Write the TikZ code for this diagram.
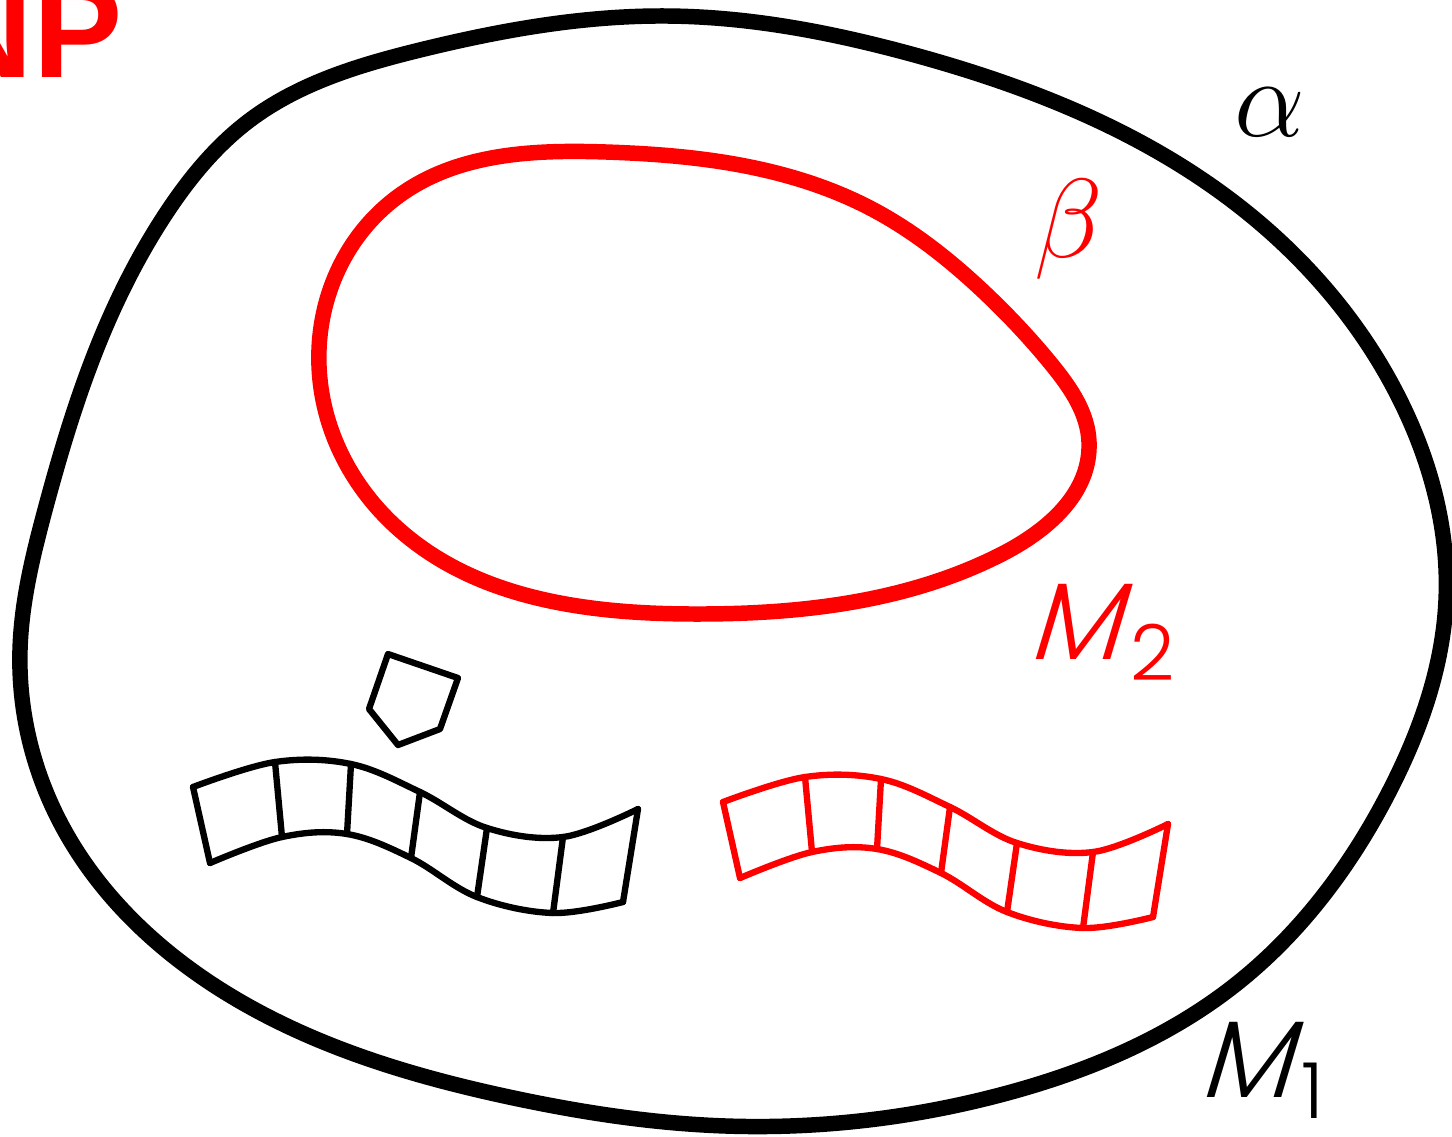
\RequirePackage{fix-cm}
\documentclass[tikz,border=0pt]{standalone}
\usepackage{fontspec}
\usetikzlibrary{positioning}
\usetikzlibrary{hobby}
\newfontfamily\mfont[FakeSlant=0.3]{Poppins Light}
\newfontfamily\subfont{Poppins Light}
\newfontfamily\npfont{Liberation Sans}

\begin{document}
\begin{tikzpicture}[x=0.01cm, y=-0.01cm, line cap=round, line join=round]

	% Colors
	\definecolor{redA}{RGB}{255,0,0}

	\tikzset{
		outerline/.style={line width=4.4pt, draw=black},
		innerline/.style={line width=4.4pt, draw=redA},
		stripline/.style={line width=1.8pt},
		lab/.style={inner sep=0pt, font=\fontsize{32}{38}\selectfont},
		mlab/.style={inner sep=0pt, font=\fontsize{31}{36}\selectfont},
		film/.pic={
			\draw[stripline] plot[smooth, tension=0.6] coordinates
				{(193,787) (275,762) (351,764) (420,792) (487,828) (563,837) (638,809)};
			\draw[stripline] plot[smooth, tension=0.6] coordinates
				{(210,863) (282,837) (347,834) (411,858) (477,897) (553,913) (623,902)};
			\draw[stripline] (193,787) -- (210,863);
			\draw[stripline] (275,762) -- (282,837);
			\draw[stripline] (351,764) -- (347,834);
			\draw[stripline] (420,792) -- (411,858);
			\draw[stripline] (487,828) -- (477,897);
			\draw[stripline] (563,837) -- (553,913);
			\draw[stripline] (638,809) -- (623,902);
		},
	}

	\useasboundingbox (0,0) rectangle (1452,1136);

	% --- Top left: cut-off tag
	\node[anchor=base west, inner sep=0pt, text=redA, font=\npfont\bfseries\fontsize{38}{44}\selectfont] (tag) at (-64,77) {NP};

	% --- Outer region alpha
	\draw[outerline] plot[closed hobby] coordinates {
		(667,16) (420,50) (250,120) (165,215) (106,326) (45,510) (20,650)
		(60,822) (231,996) (509,1097) (726,1126) (1000,1095) (1235,985)
		(1390,790) (1446,600) (1400,400) (1235,203) (911,54)};

	% --- Inner loop beta
	\draw[innerline] plot[closed hobby] coordinates {
		(606,152) (400,195) (319,366) (394,525) (694,614) (1000,555)
		(1089,442) (1052,365) (985,293) (870,208) (740,165)};

	% --- Pentagon
	\draw[stripline] (388,654) -- (458,678) -- (440,729) -- (398,745) -- (369,709) -- cycle;

	% --- Strips
	\pic (stripA) at (0,0) {film};
	\pic[draw=redA] (stripB) at (530,15) {film};

	% --- Labels
	\node[lab] (alpha) at (1270,112) {$\alpha$};
	\node[lab, text=redA] (beta) at (1069,229) {$\beta$};
	\node[mlab, anchor=base west] (mone) at (1198,1097) {\mfont M\kern0.1em\raisebox{-0.2em}{\subfont\fontsize{22}{26}\selectfont 1}};
	\node[mlab, anchor=base west, text=redA] (mtwo) at (1027,659) {\mfont M\kern0.1em\raisebox{-0.2em}{\subfont\fontsize{22}{26}\selectfont 2}};

\end{tikzpicture}
\end{document}
